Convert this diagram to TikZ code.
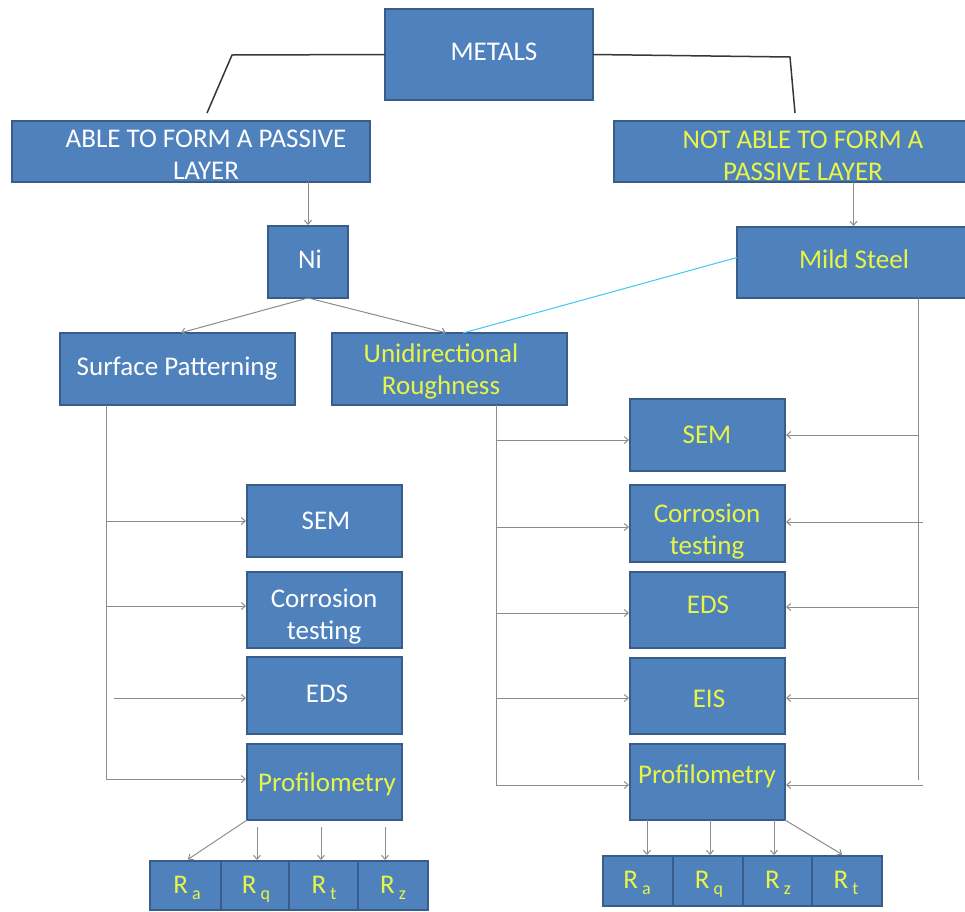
\documentclass[tikz,border=0pt]{standalone}
\usepackage{fontspec}
\setmainfont{Carlito}
\usetikzlibrary{arrows.meta,calc}
\definecolor{boxfill}{RGB}{79,129,189}
\definecolor{boxline}{RGB}{56,93,138}
\definecolor{ytext}{RGB}{232,245,70}
\definecolor{conncol}{RGB}{140,140,140}
\definecolor{toplinecol}{RGB}{55,55,55}
\definecolor{cyanline}{RGB}{60,200,240}
\newcommand{\Rsub}[1]{R\hspace{4pt}\raisebox{-6pt}{\fontsize{18}{18}\selectfont #1}}
\begin{document}
\begin{tikzpicture}[x=1pt,y=-1pt,
  box/.style={draw=boxline, line width=1.2pt, fill=boxfill, inner sep=0pt, outer sep=0pt},
  wtxt/.style={text=white, font=\fontsize{27}{32}\selectfont, align=center, inner sep=0pt},
  ytxt/.style={wtxt, text=ytext},
  conn/.style={draw=conncol, line width=1pt},
  arr/.style={conn, -{Straight Barb[length=4pt,width=7pt]}, shorten >=1pt},
  topline/.style={draw=toplinecol, line width=1.5pt},
  cyanconn/.style={draw=cyanline, line width=1pt}
]
\fill[white] (0,0) rectangle (965,911);
\useasboundingbox (0,0) rectangle (965,911);

% ---------- boxes ----------
\node[box, minimum width=208pt, minimum height=91pt] (metals) at (489,54.5) {};
\node[box, minimum width=358pt, minimum height=61pt] (able) at (191,151.5) {};
\node[box, minimum width=356pt, minimum height=61pt] (notable) at (792,151.5) {};
\node[box, minimum width=80pt, minimum height=72pt] (ni) at (308,262) {};
\node[box, minimum width=233pt, minimum height=71pt] (ms) at (853.5,262.5) {};
\node[box, minimum width=235pt, minimum height=72pt] (sp) at (177.5,369) {};
\node[box, minimum width=235pt, minimum height=72pt] (ur) at (449.5,369) {};

\node[box, minimum width=155pt, minimum height=72pt] (lsem) at (324.5,521) {};
\node[box, minimum width=155pt, minimum height=76pt] (lcor) at (324.5,610) {};
\node[box, minimum width=155pt, minimum height=77pt] (leds) at (324.5,695.5) {};
\node[box, minimum width=155pt, minimum height=76pt] (lprof) at (324.5,782) {};

\node[box, minimum width=155pt, minimum height=72pt] (rsem) at (707.5,435) {};
\node[box, minimum width=155pt, minimum height=77pt] (rcor) at (707.5,523.5) {};
\node[box, minimum width=155pt, minimum height=76pt] (reds) at (707.5,610) {};
\node[box, minimum width=155pt, minimum height=76pt] (reis) at (707.5,696) {};
\node[box, minimum width=155pt, minimum height=76pt] (rprof) at (707.5,782) {};

\node[box, minimum width=71pt, minimum height=49pt] (lRa) at (185.5,885.5) {};
\node[box, minimum width=68pt, minimum height=49pt] (lRq) at (255,885.5) {};
\node[box, minimum width=69pt, minimum height=49pt] (lRt) at (323.5,885.5) {};
\node[box, minimum width=70pt, minimum height=49pt] (lRz) at (393,885.5) {};

\node[box, minimum width=70pt, minimum height=50pt] (rRa) at (638,881) {};
\node[box, minimum width=70pt, minimum height=50pt] (rRq) at (708,881) {};
\node[box, minimum width=69pt, minimum height=50pt] (rRz) at (777.5,881) {};
\node[box, minimum width=70pt, minimum height=50pt] (rRt) at (847,881) {};

% ---------- texts ----------
\node[wtxt, anchor=base] (metals-t) at (494,60) {METALS};
\node[wtxt] (able-t) at (206,154.5) {ABLE TO FORM A PASSIVE\\LAYER};
\node[ytxt] (notable-t) at (803,155.5) {NOT ABLE TO FORM A\\PASSIVE LAYER};
\node[wtxt, anchor=base] (ni-t) at (310,268) {Ni};
\node[ytxt, anchor=base] (ms-t) at (854,268) {Mild Steel};
\node[wtxt, anchor=base] (sp-t) at (177,375) {Surface Patterning};
\node[ytxt] (ur-t) at (441,371) {Unidirectional\\Roughness};

\node[wtxt, anchor=base] (lsem-t) at (326,529) {SEM};
\node[wtxt] (lcor-t) at (324,617) {Corrosion\\testing};
\node[wtxt, anchor=base] (leds-t) at (327,702) {EDS};
\node[ytxt, anchor=base] (lprof-t) at (327,791) {Profilometry};

\node[ytxt, anchor=base] (rsem-t) at (707,443) {SEM};
\node[ytxt] (rcor-t) at (707,532) {Corrosion\\testing};
\node[ytxt, anchor=base] (reds-t) at (708,613) {EDS};
\node[ytxt, anchor=base] (reis-t) at (709,707) {EIS};
\node[ytxt, anchor=base] (rprof-t) at (707,783) {Profilometry};

\node[ytxt, anchor=base] (lRa-t) at (187,893) {\Rsub{a}};
\node[ytxt, anchor=base] (lRq-t) at (256,893) {\Rsub{q}};
\node[ytxt, anchor=base] (lRt-t) at (324,893) {\Rsub{t}};
\node[ytxt, anchor=base] (lRz-t) at (393,893) {\Rsub{z}};

\node[ytxt, anchor=base] (rRa-t) at (637,888) {\Rsub{a}};
\node[ytxt, anchor=base] (rRq-t) at (709,888) {\Rsub{q}};
\node[ytxt, anchor=base] (rRz-t) at (778,888) {\Rsub{z}};
\node[ytxt, anchor=base] (rRt-t) at (846,888) {\Rsub{t}};

% ---------- coordinates ----------
\coordinate (bendL) at (232,55);
\coordinate (ableTop) at (207,113);
\coordinate (bendR) at (790,57);
\coordinate (notTop) at (795,113);
\coordinate (spt) at (106,405);
\coordinate (ledsS) at (114,698);
\coordinate (urt) at (496,405);
\coordinate (mst) at (918,298);
\coordinate (stub1) at (923,522);
\coordinate (stub2) at (923,785);
\coordinate (lp1) at (257,827);
\coordinate (lp2) at (321,827);
\coordinate (lp3) at (385,827);
\coordinate (rp1) at (647,820);
\coordinate (rp2) at (710,820);
\coordinate (rp3) at (774,820);
\coordinate (lRaTop) at (187,860);
\coordinate (rRtTop) at (843,855);

% ---------- connectors ----------
\draw[topline] (metals.west) -- (bendL) -- (ableTop);
\draw[topline] (metals.east) -- (bendR) -- (notTop);

\draw[arr] (ni.north |- able.south) -- (ni.north);
\draw[arr] (ms.north |- notable.south) -- (ms.north);

\draw[arr] (ni.south) -- ([xshift=2.5pt]sp.north);
\draw[arr] (ni.south) -- ([xshift=-2.5pt]ur.north);

\draw[cyanconn] ([yshift=5pt]ms.west) -- ([xshift=13.5pt]ur.north);

% left trunk (Surface Patterning)
\draw[arr] (spt) |- (lsem.west);
\draw[arr] (spt) |- ([yshift=4pt]lcor.west);
\draw[arr] (ledsS) -- (leds.west |- ledsS);
\draw[arr] (spt) |- ([yshift=3pt]lprof.west);

% middle trunk (Unidirectional Roughness)
\draw[arr] (urt) |- ([yshift=-5pt]rsem.west);
\draw[arr] (urt) |- ([yshift=-3.5pt]rcor.west);
\draw[arr] (urt) |- ([yshift=-3pt]reds.west);
\draw[arr] (urt) |- ([yshift=-2pt]reis.west);
\draw[arr] (urt) |- ([yshift=-3pt]rprof.west);

% right trunk (Mild Steel)
\draw[arr] (mst) |- (rsem.east);
\draw[arr] (stub1) -- (stub1 -| rcor.east);
\draw[conn] (mst) -- (mst |- stub1);
\draw[arr] (mst) |- ([yshift=3pt]reds.east);
\draw[arr] (mst) |- ([yshift=-2pt]reis.east);
\draw[conn] (mst) -- ([yshift=5pt]mst |- stub2);
\draw[arr] (stub2) -- (stub2 -| rprof.east);

% profilometry to roughness parameters (left)
\draw[arr] (lprof.south west) -- (lRaTop);
\draw[arr] (lp1) -- (lp1 |- lRq.north);
\draw[arr] (lp2) -- (lp2 |- lRt.north);
\draw[arr] (lp3) -- (lp3 |- lRz.north);

% profilometry to roughness parameters (right)
\draw[arr] (rp1) -- (rp1 |- rRa.north);
\draw[arr] (rp2) -- (rp2 |- rRq.north);
\draw[arr] (rp3) -- (rp3 |- rRz.north);
\draw[arr] (rprof.south east) -- (rRtTop);
\end{tikzpicture}
\end{document}
